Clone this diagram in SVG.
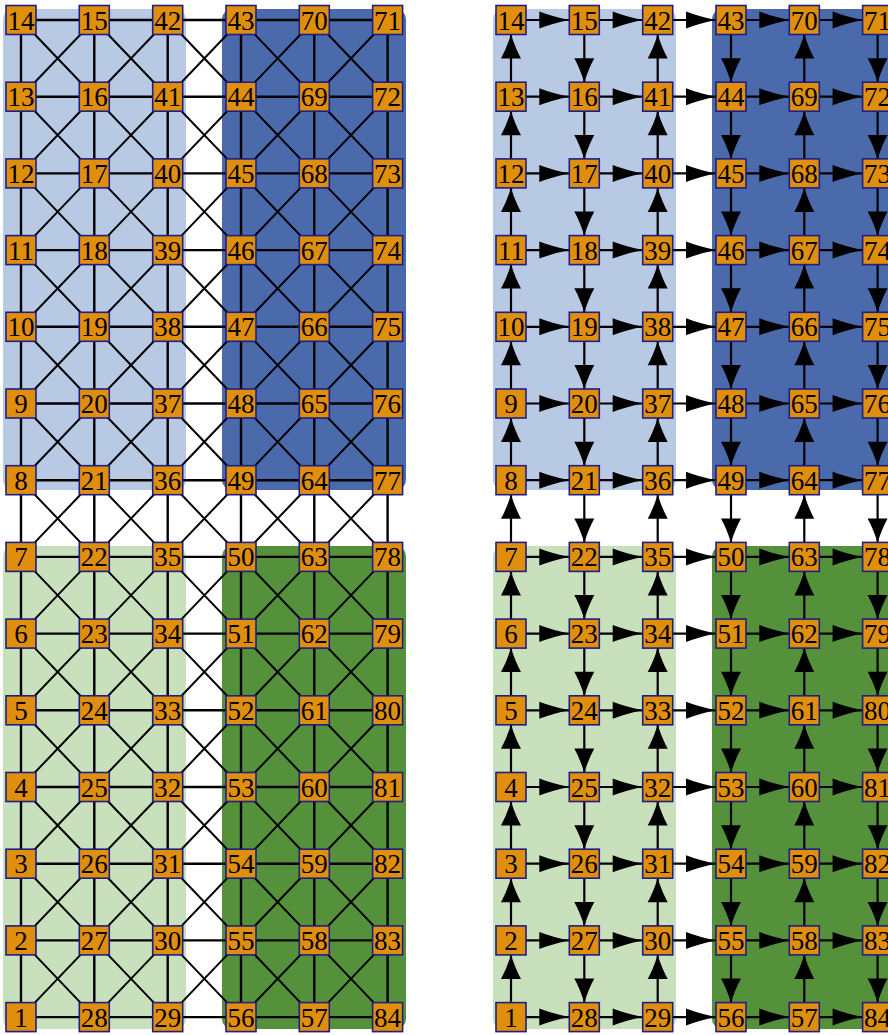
<svg xmlns="http://www.w3.org/2000/svg" xmlns:xlink="http://www.w3.org/1999/xlink" width="888" height="1035" viewBox="0 0 888 1035">
<style>
.e path{stroke:#000;stroke-width:2.4;fill:none}
.e .d{stroke-width:2}
.a path{stroke:#000;stroke-width:2.2;fill:none}
.a .h{marker-end:url(#ah)}
.a .v{marker-end:url(#av)}
.bx{fill:#e08f0c;stroke:#1e1e84;stroke-width:1.6}
text{font-family:"Liberation Serif","Times New Roman",serif;font-size:27px;text-anchor:middle;fill:#000}
</style>
<defs>
<rect id="bx" class="bx" x="-15" y="-14.5" width="30" height="29"/>
<marker id="ah" markerUnits="userSpaceOnUse" markerWidth="31" markerHeight="17" refX="30" refY="8.5" orient="auto" overflow="visible"><path d="M0,0 Q13,5 30,8.5 Q13,12 0,17 Z" fill="#000"/></marker>
<marker id="av" markerUnits="userSpaceOnUse" markerWidth="25" markerHeight="20" refX="24" refY="10" orient="auto" overflow="visible"><path d="M0,0 Q10,5.5 24,10 Q10,14.5 0,20 Z" fill="#000"/></marker>
</defs>
<g id="regions">
<rect x="3" y="9" width="183" height="481" rx="10" fill="#b8c9e3"/>
<rect x="222" y="9" width="184" height="481" rx="10" fill="#4a6aab"/>
<rect x="3" y="546" width="183" height="483" rx="10" fill="#c8e0bc"/>
<rect x="222" y="546" width="184" height="483" rx="10" fill="#55903b"/>
<rect x="493" y="9" width="183" height="481" rx="10" fill="#b8c9e3"/>
<rect x="712" y="9" width="190" height="481" rx="10" fill="#4a6aab"/>
<rect x="493" y="546" width="183" height="483" rx="10" fill="#c8e0bc"/>
<rect x="712" y="546" width="190" height="483" rx="10" fill="#55903b"/>
</g>
<g id="connectors">
<g class="e" id="left-edges">
<path d="M21 20H94.3M94.3 20H167.7M167.7 20H241M241 20H314.3M314.3 20H387.6"/>
<path d="M21 96.7H94.3M94.3 96.7H167.7M167.7 96.7H241M241 96.7H314.3M314.3 96.7H387.6"/>
<path d="M21 173.4H94.3M94.3 173.4H167.7M167.7 173.4H241M241 173.4H314.3M314.3 173.4H387.6"/>
<path d="M21 250.1H94.3M94.3 250.1H167.7M167.7 250.1H241M241 250.1H314.3M314.3 250.1H387.6"/>
<path d="M21 326.8H94.3M94.3 326.8H167.7M167.7 326.8H241M241 326.8H314.3M314.3 326.8H387.6"/>
<path d="M21 403.5H94.3M94.3 403.5H167.7M167.7 403.5H241M241 403.5H314.3M314.3 403.5H387.6"/>
<path d="M21 480.2H94.3M94.3 480.2H167.7M167.7 480.2H241M241 480.2H314.3M314.3 480.2H387.6"/>
<path d="M21 556.9H94.3M94.3 556.9H167.7M167.7 556.9H241M241 556.9H314.3M314.3 556.9H387.6"/>
<path d="M21 633.6H94.3M94.3 633.6H167.7M167.7 633.6H241M241 633.6H314.3M314.3 633.6H387.6"/>
<path d="M21 710.3H94.3M94.3 710.3H167.7M167.7 710.3H241M241 710.3H314.3M314.3 710.3H387.6"/>
<path d="M21 787H94.3M94.3 787H167.7M167.7 787H241M241 787H314.3M314.3 787H387.6"/>
<path d="M21 863.7H94.3M94.3 863.7H167.7M167.7 863.7H241M241 863.7H314.3M314.3 863.7H387.6"/>
<path d="M21 940.4H94.3M94.3 940.4H167.7M167.7 940.4H241M241 940.4H314.3M314.3 940.4H387.6"/>
<path d="M21 1017.1H94.3M94.3 1017.1H167.7M167.7 1017.1H241M241 1017.1H314.3M314.3 1017.1H387.6"/>
<path d="M21 20V96.7M21 96.7V173.4M21 173.4V250.1M21 250.1V326.8M21 326.8V403.5M21 403.5V480.2M21 480.2V556.9M21 556.9V633.6M21 633.6V710.3M21 710.3V787M21 787V863.7M21 863.7V940.4M21 940.4V1017.1"/>
<path d="M94.3 20V96.7M94.3 96.7V173.4M94.3 173.4V250.1M94.3 250.1V326.8M94.3 326.8V403.5M94.3 403.5V480.2M94.3 480.2V556.9M94.3 556.9V633.6M94.3 633.6V710.3M94.3 710.3V787M94.3 787V863.7M94.3 863.7V940.4M94.3 940.4V1017.1"/>
<path d="M167.7 20V96.7M167.7 96.7V173.4M167.7 173.4V250.1M167.7 250.1V326.8M167.7 326.8V403.5M167.7 403.5V480.2M167.7 480.2V556.9M167.7 556.9V633.6M167.7 633.6V710.3M167.7 710.3V787M167.7 787V863.7M167.7 863.7V940.4M167.7 940.4V1017.1"/>
<path d="M241 20V96.7M241 96.7V173.4M241 173.4V250.1M241 250.1V326.8M241 326.8V403.5M241 403.5V480.2M241 480.2V556.9M241 556.9V633.6M241 633.6V710.3M241 710.3V787M241 787V863.7M241 863.7V940.4M241 940.4V1017.1"/>
<path d="M314.3 20V96.7M314.3 96.7V173.4M314.3 173.4V250.1M314.3 250.1V326.8M314.3 326.8V403.5M314.3 403.5V480.2M314.3 480.2V556.9M314.3 556.9V633.6M314.3 633.6V710.3M314.3 710.3V787M314.3 787V863.7M314.3 863.7V940.4M314.3 940.4V1017.1"/>
<path d="M387.6 20V96.7M387.6 96.7V173.4M387.6 173.4V250.1M387.6 250.1V326.8M387.6 326.8V403.5M387.6 403.5V480.2M387.6 480.2V556.9M387.6 556.9V633.6M387.6 633.6V710.3M387.6 710.3V787M387.6 787V863.7M387.6 863.7V940.4M387.6 940.4V1017.1"/>
<path class="d" d="M21 20L94.3 96.7M94.3 20L21 96.7M94.3 20L167.7 96.7M167.7 20L94.3 96.7M167.7 20L241 96.7M241 20L167.7 96.7M241 20L314.3 96.7M314.3 20L241 96.7M314.3 20L387.6 96.7M387.6 20L314.3 96.7"/>
<path class="d" d="M21 96.7L94.3 173.4M94.3 96.7L21 173.4M94.3 96.7L167.7 173.4M167.7 96.7L94.3 173.4M167.7 96.7L241 173.4M241 96.7L167.7 173.4M241 96.7L314.3 173.4M314.3 96.7L241 173.4M314.3 96.7L387.6 173.4M387.6 96.7L314.3 173.4"/>
<path class="d" d="M21 173.4L94.3 250.1M94.3 173.4L21 250.1M94.3 173.4L167.7 250.1M167.7 173.4L94.3 250.1M167.7 173.4L241 250.1M241 173.4L167.7 250.1M241 173.4L314.3 250.1M314.3 173.4L241 250.1M314.3 173.4L387.6 250.1M387.6 173.4L314.3 250.1"/>
<path class="d" d="M21 250.1L94.3 326.8M94.3 250.1L21 326.8M94.3 250.1L167.7 326.8M167.7 250.1L94.3 326.8M167.7 250.1L241 326.8M241 250.1L167.7 326.8M241 250.1L314.3 326.8M314.3 250.1L241 326.8M314.3 250.1L387.6 326.8M387.6 250.1L314.3 326.8"/>
<path class="d" d="M21 326.8L94.3 403.5M94.3 326.8L21 403.5M94.3 326.8L167.7 403.5M167.7 326.8L94.3 403.5M167.7 326.8L241 403.5M241 326.8L167.7 403.5M241 326.8L314.3 403.5M314.3 326.8L241 403.5M314.3 326.8L387.6 403.5M387.6 326.8L314.3 403.5"/>
<path class="d" d="M21 403.5L94.3 480.2M94.3 403.5L21 480.2M94.3 403.5L167.7 480.2M167.7 403.5L94.3 480.2M167.7 403.5L241 480.2M241 403.5L167.7 480.2M241 403.5L314.3 480.2M314.3 403.5L241 480.2M314.3 403.5L387.6 480.2M387.6 403.5L314.3 480.2"/>
<path class="d" d="M21 480.2L94.3 556.9M94.3 480.2L21 556.9M94.3 480.2L167.7 556.9M167.7 480.2L94.3 556.9M167.7 480.2L241 556.9M241 480.2L167.7 556.9M241 480.2L314.3 556.9M314.3 480.2L241 556.9M314.3 480.2L387.6 556.9M387.6 480.2L314.3 556.9"/>
<path class="d" d="M21 556.9L94.3 633.6M94.3 556.9L21 633.6M94.3 556.9L167.7 633.6M167.7 556.9L94.3 633.6M167.7 556.9L241 633.6M241 556.9L167.7 633.6M241 556.9L314.3 633.6M314.3 556.9L241 633.6M314.3 556.9L387.6 633.6M387.6 556.9L314.3 633.6"/>
<path class="d" d="M21 633.6L94.3 710.3M94.3 633.6L21 710.3M94.3 633.6L167.7 710.3M167.7 633.6L94.3 710.3M167.7 633.6L241 710.3M241 633.6L167.7 710.3M241 633.6L314.3 710.3M314.3 633.6L241 710.3M314.3 633.6L387.6 710.3M387.6 633.6L314.3 710.3"/>
<path class="d" d="M21 710.3L94.3 787M94.3 710.3L21 787M94.3 710.3L167.7 787M167.7 710.3L94.3 787M167.7 710.3L241 787M241 710.3L167.7 787M241 710.3L314.3 787M314.3 710.3L241 787M314.3 710.3L387.6 787M387.6 710.3L314.3 787"/>
<path class="d" d="M21 787L94.3 863.7M94.3 787L21 863.7M94.3 787L167.7 863.7M167.7 787L94.3 863.7M167.7 787L241 863.7M241 787L167.7 863.7M241 787L314.3 863.7M314.3 787L241 863.7M314.3 787L387.6 863.7M387.6 787L314.3 863.7"/>
<path class="d" d="M21 863.7L94.3 940.4M94.3 863.7L21 940.4M94.3 863.7L167.7 940.4M167.7 863.7L94.3 940.4M167.7 863.7L241 940.4M241 863.7L167.7 940.4M241 863.7L314.3 940.4M314.3 863.7L241 940.4M314.3 863.7L387.6 940.4M387.6 863.7L314.3 940.4"/>
<path class="d" d="M21 940.4L94.3 1017.1M94.3 940.4L21 1017.1M94.3 940.4L167.7 1017.1M167.7 940.4L94.3 1017.1M167.7 940.4L241 1017.1M241 940.4L167.7 1017.1M241 940.4L314.3 1017.1M314.3 940.4L241 1017.1M314.3 940.4L387.6 1017.1M387.6 940.4L314.3 1017.1"/>
</g>
<g class="a" id="right-arrows">
<path class="h" d="M526 20H569.3"/><path class="h" d="M599.3 20H642.7"/><path class="h" d="M672.7 20H716"/><path class="h" d="M746 20H789.3"/><path class="h" d="M819.3 20H862.6"/>
<path class="h" d="M526 96.7H569.3"/><path class="h" d="M599.3 96.7H642.7"/><path class="h" d="M672.7 96.7H716"/><path class="h" d="M746 96.7H789.3"/><path class="h" d="M819.3 96.7H862.6"/>
<path class="h" d="M526 173.4H569.3"/><path class="h" d="M599.3 173.4H642.7"/><path class="h" d="M672.7 173.4H716"/><path class="h" d="M746 173.4H789.3"/><path class="h" d="M819.3 173.4H862.6"/>
<path class="h" d="M526 250.1H569.3"/><path class="h" d="M599.3 250.1H642.7"/><path class="h" d="M672.7 250.1H716"/><path class="h" d="M746 250.1H789.3"/><path class="h" d="M819.3 250.1H862.6"/>
<path class="h" d="M526 326.8H569.3"/><path class="h" d="M599.3 326.8H642.7"/><path class="h" d="M672.7 326.8H716"/><path class="h" d="M746 326.8H789.3"/><path class="h" d="M819.3 326.8H862.6"/>
<path class="h" d="M526 403.5H569.3"/><path class="h" d="M599.3 403.5H642.7"/><path class="h" d="M672.7 403.5H716"/><path class="h" d="M746 403.5H789.3"/><path class="h" d="M819.3 403.5H862.6"/>
<path class="h" d="M526 480.2H569.3"/><path class="h" d="M599.3 480.2H642.7"/><path class="h" d="M672.7 480.2H716"/><path class="h" d="M746 480.2H789.3"/><path class="h" d="M819.3 480.2H862.6"/>
<path class="h" d="M526 556.9H569.3"/><path class="h" d="M599.3 556.9H642.7"/><path class="h" d="M672.7 556.9H716"/><path class="h" d="M746 556.9H789.3"/><path class="h" d="M819.3 556.9H862.6"/>
<path class="h" d="M526 633.6H569.3"/><path class="h" d="M599.3 633.6H642.7"/><path class="h" d="M672.7 633.6H716"/><path class="h" d="M746 633.6H789.3"/><path class="h" d="M819.3 633.6H862.6"/>
<path class="h" d="M526 710.3H569.3"/><path class="h" d="M599.3 710.3H642.7"/><path class="h" d="M672.7 710.3H716"/><path class="h" d="M746 710.3H789.3"/><path class="h" d="M819.3 710.3H862.6"/>
<path class="h" d="M526 787H569.3"/><path class="h" d="M599.3 787H642.7"/><path class="h" d="M672.7 787H716"/><path class="h" d="M746 787H789.3"/><path class="h" d="M819.3 787H862.6"/>
<path class="h" d="M526 863.7H569.3"/><path class="h" d="M599.3 863.7H642.7"/><path class="h" d="M672.7 863.7H716"/><path class="h" d="M746 863.7H789.3"/><path class="h" d="M819.3 863.7H862.6"/>
<path class="h" d="M526 940.4H569.3"/><path class="h" d="M599.3 940.4H642.7"/><path class="h" d="M672.7 940.4H716"/><path class="h" d="M746 940.4H789.3"/><path class="h" d="M819.3 940.4H862.6"/>
<path class="h" d="M526 1017.1H569.3"/><path class="h" d="M599.3 1017.1H642.7"/><path class="h" d="M672.7 1017.1H716"/><path class="h" d="M746 1017.1H789.3"/><path class="h" d="M819.3 1017.1H862.6"/>
<path class="v" d="M511 82.2V34.5"/><path class="v" d="M511 158.9V111.2"/><path class="v" d="M511 235.6V187.9"/><path class="v" d="M511 312.3V264.6"/><path class="v" d="M511 389V341.3"/><path class="v" d="M511 465.7V418"/><path class="v" d="M511 542.4V494.7"/><path class="v" d="M511 619.1V571.4"/><path class="v" d="M511 695.8V648.1"/><path class="v" d="M511 772.5V724.8"/><path class="v" d="M511 849.2V801.5"/><path class="v" d="M511 925.9V878.2"/><path class="v" d="M511 1002.6V954.9"/>
<path class="v" d="M584.3 34.5V82.2"/><path class="v" d="M584.3 111.2V158.9"/><path class="v" d="M584.3 187.9V235.6"/><path class="v" d="M584.3 264.6V312.3"/><path class="v" d="M584.3 341.3V389"/><path class="v" d="M584.3 418V465.7"/><path class="v" d="M584.3 494.7V542.4"/><path class="v" d="M584.3 571.4V619.1"/><path class="v" d="M584.3 648.1V695.8"/><path class="v" d="M584.3 724.8V772.5"/><path class="v" d="M584.3 801.5V849.2"/><path class="v" d="M584.3 878.2V925.9"/><path class="v" d="M584.3 954.9V1002.6"/>
<path class="v" d="M657.7 82.2V34.5"/><path class="v" d="M657.7 158.9V111.2"/><path class="v" d="M657.7 235.6V187.9"/><path class="v" d="M657.7 312.3V264.6"/><path class="v" d="M657.7 389V341.3"/><path class="v" d="M657.7 465.7V418"/><path class="v" d="M657.7 542.4V494.7"/><path class="v" d="M657.7 619.1V571.4"/><path class="v" d="M657.7 695.8V648.1"/><path class="v" d="M657.7 772.5V724.8"/><path class="v" d="M657.7 849.2V801.5"/><path class="v" d="M657.7 925.9V878.2"/><path class="v" d="M657.7 1002.6V954.9"/>
<path class="v" d="M731 34.5V82.2"/><path class="v" d="M731 111.2V158.9"/><path class="v" d="M731 187.9V235.6"/><path class="v" d="M731 264.6V312.3"/><path class="v" d="M731 341.3V389"/><path class="v" d="M731 418V465.7"/><path class="v" d="M731 494.7V542.4"/><path class="v" d="M731 571.4V619.1"/><path class="v" d="M731 648.1V695.8"/><path class="v" d="M731 724.8V772.5"/><path class="v" d="M731 801.5V849.2"/><path class="v" d="M731 878.2V925.9"/><path class="v" d="M731 954.9V1002.6"/>
<path class="v" d="M804.3 82.2V34.5"/><path class="v" d="M804.3 158.9V111.2"/><path class="v" d="M804.3 235.6V187.9"/><path class="v" d="M804.3 312.3V264.6"/><path class="v" d="M804.3 389V341.3"/><path class="v" d="M804.3 465.7V418"/><path class="v" d="M804.3 542.4V494.7"/><path class="v" d="M804.3 619.1V571.4"/><path class="v" d="M804.3 695.8V648.1"/><path class="v" d="M804.3 772.5V724.8"/><path class="v" d="M804.3 849.2V801.5"/><path class="v" d="M804.3 925.9V878.2"/><path class="v" d="M804.3 1002.6V954.9"/>
<path class="v" d="M877.6 34.5V82.2"/><path class="v" d="M877.6 111.2V158.9"/><path class="v" d="M877.6 187.9V235.6"/><path class="v" d="M877.6 264.6V312.3"/><path class="v" d="M877.6 341.3V389"/><path class="v" d="M877.6 418V465.7"/><path class="v" d="M877.6 494.7V542.4"/><path class="v" d="M877.6 571.4V619.1"/><path class="v" d="M877.6 648.1V695.8"/><path class="v" d="M877.6 724.8V772.5"/><path class="v" d="M877.6 801.5V849.2"/><path class="v" d="M877.6 878.2V925.9"/><path class="v" d="M877.6 954.9V1002.6"/>
</g>
</g>
<g id="left-nodes">
<g id="L14" transform="translate(21 20)"><use href="#bx"/><text y="9.5">14</text></g>
<g id="L13" transform="translate(21 96.7)"><use href="#bx"/><text y="9.5">13</text></g>
<g id="L12" transform="translate(21 173.4)"><use href="#bx"/><text y="9.5">12</text></g>
<g id="L11" transform="translate(21 250.1)"><use href="#bx"/><text y="9.5">11</text></g>
<g id="L10" transform="translate(21 326.8)"><use href="#bx"/><text y="9.5">10</text></g>
<g id="L9" transform="translate(21 403.5)"><use href="#bx"/><text y="9.5">9</text></g>
<g id="L8" transform="translate(21 480.2)"><use href="#bx"/><text y="9.5">8</text></g>
<g id="L7" transform="translate(21 556.9)"><use href="#bx"/><text y="9.5">7</text></g>
<g id="L6" transform="translate(21 633.6)"><use href="#bx"/><text y="9.5">6</text></g>
<g id="L5" transform="translate(21 710.3)"><use href="#bx"/><text y="9.5">5</text></g>
<g id="L4" transform="translate(21 787)"><use href="#bx"/><text y="9.5">4</text></g>
<g id="L3" transform="translate(21 863.7)"><use href="#bx"/><text y="9.5">3</text></g>
<g id="L2" transform="translate(21 940.4)"><use href="#bx"/><text y="9.5">2</text></g>
<g id="L1" transform="translate(21 1017.1)"><use href="#bx"/><text y="9.5">1</text></g>
<g id="L15" transform="translate(94.3 20)"><use href="#bx"/><text y="9.5">15</text></g>
<g id="L16" transform="translate(94.3 96.7)"><use href="#bx"/><text y="9.5">16</text></g>
<g id="L17" transform="translate(94.3 173.4)"><use href="#bx"/><text y="9.5">17</text></g>
<g id="L18" transform="translate(94.3 250.1)"><use href="#bx"/><text y="9.5">18</text></g>
<g id="L19" transform="translate(94.3 326.8)"><use href="#bx"/><text y="9.5">19</text></g>
<g id="L20" transform="translate(94.3 403.5)"><use href="#bx"/><text y="9.5">20</text></g>
<g id="L21" transform="translate(94.3 480.2)"><use href="#bx"/><text y="9.5">21</text></g>
<g id="L22" transform="translate(94.3 556.9)"><use href="#bx"/><text y="9.5">22</text></g>
<g id="L23" transform="translate(94.3 633.6)"><use href="#bx"/><text y="9.5">23</text></g>
<g id="L24" transform="translate(94.3 710.3)"><use href="#bx"/><text y="9.5">24</text></g>
<g id="L25" transform="translate(94.3 787)"><use href="#bx"/><text y="9.5">25</text></g>
<g id="L26" transform="translate(94.3 863.7)"><use href="#bx"/><text y="9.5">26</text></g>
<g id="L27" transform="translate(94.3 940.4)"><use href="#bx"/><text y="9.5">27</text></g>
<g id="L28" transform="translate(94.3 1017.1)"><use href="#bx"/><text y="9.5">28</text></g>
<g id="L42" transform="translate(167.7 20)"><use href="#bx"/><text y="9.5">42</text></g>
<g id="L41" transform="translate(167.7 96.7)"><use href="#bx"/><text y="9.5">41</text></g>
<g id="L40" transform="translate(167.7 173.4)"><use href="#bx"/><text y="9.5">40</text></g>
<g id="L39" transform="translate(167.7 250.1)"><use href="#bx"/><text y="9.5">39</text></g>
<g id="L38" transform="translate(167.7 326.8)"><use href="#bx"/><text y="9.5">38</text></g>
<g id="L37" transform="translate(167.7 403.5)"><use href="#bx"/><text y="9.5">37</text></g>
<g id="L36" transform="translate(167.7 480.2)"><use href="#bx"/><text y="9.5">36</text></g>
<g id="L35" transform="translate(167.7 556.9)"><use href="#bx"/><text y="9.5">35</text></g>
<g id="L34" transform="translate(167.7 633.6)"><use href="#bx"/><text y="9.5">34</text></g>
<g id="L33" transform="translate(167.7 710.3)"><use href="#bx"/><text y="9.5">33</text></g>
<g id="L32" transform="translate(167.7 787)"><use href="#bx"/><text y="9.5">32</text></g>
<g id="L31" transform="translate(167.7 863.7)"><use href="#bx"/><text y="9.5">31</text></g>
<g id="L30" transform="translate(167.7 940.4)"><use href="#bx"/><text y="9.5">30</text></g>
<g id="L29" transform="translate(167.7 1017.1)"><use href="#bx"/><text y="9.5">29</text></g>
<g id="L43" transform="translate(241 20)"><use href="#bx"/><text y="9.5">43</text></g>
<g id="L44" transform="translate(241 96.7)"><use href="#bx"/><text y="9.5">44</text></g>
<g id="L45" transform="translate(241 173.4)"><use href="#bx"/><text y="9.5">45</text></g>
<g id="L46" transform="translate(241 250.1)"><use href="#bx"/><text y="9.5">46</text></g>
<g id="L47" transform="translate(241 326.8)"><use href="#bx"/><text y="9.5">47</text></g>
<g id="L48" transform="translate(241 403.5)"><use href="#bx"/><text y="9.5">48</text></g>
<g id="L49" transform="translate(241 480.2)"><use href="#bx"/><text y="9.5">49</text></g>
<g id="L50" transform="translate(241 556.9)"><use href="#bx"/><text y="9.5">50</text></g>
<g id="L51" transform="translate(241 633.6)"><use href="#bx"/><text y="9.5">51</text></g>
<g id="L52" transform="translate(241 710.3)"><use href="#bx"/><text y="9.5">52</text></g>
<g id="L53" transform="translate(241 787)"><use href="#bx"/><text y="9.5">53</text></g>
<g id="L54" transform="translate(241 863.7)"><use href="#bx"/><text y="9.5">54</text></g>
<g id="L55" transform="translate(241 940.4)"><use href="#bx"/><text y="9.5">55</text></g>
<g id="L56" transform="translate(241 1017.1)"><use href="#bx"/><text y="9.5">56</text></g>
<g id="L70" transform="translate(314.3 20)"><use href="#bx"/><text y="9.5">70</text></g>
<g id="L69" transform="translate(314.3 96.7)"><use href="#bx"/><text y="9.5">69</text></g>
<g id="L68" transform="translate(314.3 173.4)"><use href="#bx"/><text y="9.5">68</text></g>
<g id="L67" transform="translate(314.3 250.1)"><use href="#bx"/><text y="9.5">67</text></g>
<g id="L66" transform="translate(314.3 326.8)"><use href="#bx"/><text y="9.5">66</text></g>
<g id="L65" transform="translate(314.3 403.5)"><use href="#bx"/><text y="9.5">65</text></g>
<g id="L64" transform="translate(314.3 480.2)"><use href="#bx"/><text y="9.5">64</text></g>
<g id="L63" transform="translate(314.3 556.9)"><use href="#bx"/><text y="9.5">63</text></g>
<g id="L62" transform="translate(314.3 633.6)"><use href="#bx"/><text y="9.5">62</text></g>
<g id="L61" transform="translate(314.3 710.3)"><use href="#bx"/><text y="9.5">61</text></g>
<g id="L60" transform="translate(314.3 787)"><use href="#bx"/><text y="9.5">60</text></g>
<g id="L59" transform="translate(314.3 863.7)"><use href="#bx"/><text y="9.5">59</text></g>
<g id="L58" transform="translate(314.3 940.4)"><use href="#bx"/><text y="9.5">58</text></g>
<g id="L57" transform="translate(314.3 1017.1)"><use href="#bx"/><text y="9.5">57</text></g>
<g id="L71" transform="translate(387.6 20)"><use href="#bx"/><text y="9.5">71</text></g>
<g id="L72" transform="translate(387.6 96.7)"><use href="#bx"/><text y="9.5">72</text></g>
<g id="L73" transform="translate(387.6 173.4)"><use href="#bx"/><text y="9.5">73</text></g>
<g id="L74" transform="translate(387.6 250.1)"><use href="#bx"/><text y="9.5">74</text></g>
<g id="L75" transform="translate(387.6 326.8)"><use href="#bx"/><text y="9.5">75</text></g>
<g id="L76" transform="translate(387.6 403.5)"><use href="#bx"/><text y="9.5">76</text></g>
<g id="L77" transform="translate(387.6 480.2)"><use href="#bx"/><text y="9.5">77</text></g>
<g id="L78" transform="translate(387.6 556.9)"><use href="#bx"/><text y="9.5">78</text></g>
<g id="L79" transform="translate(387.6 633.6)"><use href="#bx"/><text y="9.5">79</text></g>
<g id="L80" transform="translate(387.6 710.3)"><use href="#bx"/><text y="9.5">80</text></g>
<g id="L81" transform="translate(387.6 787)"><use href="#bx"/><text y="9.5">81</text></g>
<g id="L82" transform="translate(387.6 863.7)"><use href="#bx"/><text y="9.5">82</text></g>
<g id="L83" transform="translate(387.6 940.4)"><use href="#bx"/><text y="9.5">83</text></g>
<g id="L84" transform="translate(387.6 1017.1)"><use href="#bx"/><text y="9.5">84</text></g>
</g>
<g id="right-nodes">
<g id="R14" transform="translate(511 20)"><use href="#bx"/><text y="9.5">14</text></g>
<g id="R13" transform="translate(511 96.7)"><use href="#bx"/><text y="9.5">13</text></g>
<g id="R12" transform="translate(511 173.4)"><use href="#bx"/><text y="9.5">12</text></g>
<g id="R11" transform="translate(511 250.1)"><use href="#bx"/><text y="9.5">11</text></g>
<g id="R10" transform="translate(511 326.8)"><use href="#bx"/><text y="9.5">10</text></g>
<g id="R9" transform="translate(511 403.5)"><use href="#bx"/><text y="9.5">9</text></g>
<g id="R8" transform="translate(511 480.2)"><use href="#bx"/><text y="9.5">8</text></g>
<g id="R7" transform="translate(511 556.9)"><use href="#bx"/><text y="9.5">7</text></g>
<g id="R6" transform="translate(511 633.6)"><use href="#bx"/><text y="9.5">6</text></g>
<g id="R5" transform="translate(511 710.3)"><use href="#bx"/><text y="9.5">5</text></g>
<g id="R4" transform="translate(511 787)"><use href="#bx"/><text y="9.5">4</text></g>
<g id="R3" transform="translate(511 863.7)"><use href="#bx"/><text y="9.5">3</text></g>
<g id="R2" transform="translate(511 940.4)"><use href="#bx"/><text y="9.5">2</text></g>
<g id="R1" transform="translate(511 1017.1)"><use href="#bx"/><text y="9.5">1</text></g>
<g id="R15" transform="translate(584.3 20)"><use href="#bx"/><text y="9.5">15</text></g>
<g id="R16" transform="translate(584.3 96.7)"><use href="#bx"/><text y="9.5">16</text></g>
<g id="R17" transform="translate(584.3 173.4)"><use href="#bx"/><text y="9.5">17</text></g>
<g id="R18" transform="translate(584.3 250.1)"><use href="#bx"/><text y="9.5">18</text></g>
<g id="R19" transform="translate(584.3 326.8)"><use href="#bx"/><text y="9.5">19</text></g>
<g id="R20" transform="translate(584.3 403.5)"><use href="#bx"/><text y="9.5">20</text></g>
<g id="R21" transform="translate(584.3 480.2)"><use href="#bx"/><text y="9.5">21</text></g>
<g id="R22" transform="translate(584.3 556.9)"><use href="#bx"/><text y="9.5">22</text></g>
<g id="R23" transform="translate(584.3 633.6)"><use href="#bx"/><text y="9.5">23</text></g>
<g id="R24" transform="translate(584.3 710.3)"><use href="#bx"/><text y="9.5">24</text></g>
<g id="R25" transform="translate(584.3 787)"><use href="#bx"/><text y="9.5">25</text></g>
<g id="R26" transform="translate(584.3 863.7)"><use href="#bx"/><text y="9.5">26</text></g>
<g id="R27" transform="translate(584.3 940.4)"><use href="#bx"/><text y="9.5">27</text></g>
<g id="R28" transform="translate(584.3 1017.1)"><use href="#bx"/><text y="9.5">28</text></g>
<g id="R42" transform="translate(657.7 20)"><use href="#bx"/><text y="9.5">42</text></g>
<g id="R41" transform="translate(657.7 96.7)"><use href="#bx"/><text y="9.5">41</text></g>
<g id="R40" transform="translate(657.7 173.4)"><use href="#bx"/><text y="9.5">40</text></g>
<g id="R39" transform="translate(657.7 250.1)"><use href="#bx"/><text y="9.5">39</text></g>
<g id="R38" transform="translate(657.7 326.8)"><use href="#bx"/><text y="9.5">38</text></g>
<g id="R37" transform="translate(657.7 403.5)"><use href="#bx"/><text y="9.5">37</text></g>
<g id="R36" transform="translate(657.7 480.2)"><use href="#bx"/><text y="9.5">36</text></g>
<g id="R35" transform="translate(657.7 556.9)"><use href="#bx"/><text y="9.5">35</text></g>
<g id="R34" transform="translate(657.7 633.6)"><use href="#bx"/><text y="9.5">34</text></g>
<g id="R33" transform="translate(657.7 710.3)"><use href="#bx"/><text y="9.5">33</text></g>
<g id="R32" transform="translate(657.7 787)"><use href="#bx"/><text y="9.5">32</text></g>
<g id="R31" transform="translate(657.7 863.7)"><use href="#bx"/><text y="9.5">31</text></g>
<g id="R30" transform="translate(657.7 940.4)"><use href="#bx"/><text y="9.5">30</text></g>
<g id="R29" transform="translate(657.7 1017.1)"><use href="#bx"/><text y="9.5">29</text></g>
<g id="R43" transform="translate(731 20)"><use href="#bx"/><text y="9.5">43</text></g>
<g id="R44" transform="translate(731 96.7)"><use href="#bx"/><text y="9.5">44</text></g>
<g id="R45" transform="translate(731 173.4)"><use href="#bx"/><text y="9.5">45</text></g>
<g id="R46" transform="translate(731 250.1)"><use href="#bx"/><text y="9.5">46</text></g>
<g id="R47" transform="translate(731 326.8)"><use href="#bx"/><text y="9.5">47</text></g>
<g id="R48" transform="translate(731 403.5)"><use href="#bx"/><text y="9.5">48</text></g>
<g id="R49" transform="translate(731 480.2)"><use href="#bx"/><text y="9.5">49</text></g>
<g id="R50" transform="translate(731 556.9)"><use href="#bx"/><text y="9.5">50</text></g>
<g id="R51" transform="translate(731 633.6)"><use href="#bx"/><text y="9.5">51</text></g>
<g id="R52" transform="translate(731 710.3)"><use href="#bx"/><text y="9.5">52</text></g>
<g id="R53" transform="translate(731 787)"><use href="#bx"/><text y="9.5">53</text></g>
<g id="R54" transform="translate(731 863.7)"><use href="#bx"/><text y="9.5">54</text></g>
<g id="R55" transform="translate(731 940.4)"><use href="#bx"/><text y="9.5">55</text></g>
<g id="R56" transform="translate(731 1017.1)"><use href="#bx"/><text y="9.5">56</text></g>
<g id="R70" transform="translate(804.3 20)"><use href="#bx"/><text y="9.5">70</text></g>
<g id="R69" transform="translate(804.3 96.7)"><use href="#bx"/><text y="9.5">69</text></g>
<g id="R68" transform="translate(804.3 173.4)"><use href="#bx"/><text y="9.5">68</text></g>
<g id="R67" transform="translate(804.3 250.1)"><use href="#bx"/><text y="9.5">67</text></g>
<g id="R66" transform="translate(804.3 326.8)"><use href="#bx"/><text y="9.5">66</text></g>
<g id="R65" transform="translate(804.3 403.5)"><use href="#bx"/><text y="9.5">65</text></g>
<g id="R64" transform="translate(804.3 480.2)"><use href="#bx"/><text y="9.5">64</text></g>
<g id="R63" transform="translate(804.3 556.9)"><use href="#bx"/><text y="9.5">63</text></g>
<g id="R62" transform="translate(804.3 633.6)"><use href="#bx"/><text y="9.5">62</text></g>
<g id="R61" transform="translate(804.3 710.3)"><use href="#bx"/><text y="9.5">61</text></g>
<g id="R60" transform="translate(804.3 787)"><use href="#bx"/><text y="9.5">60</text></g>
<g id="R59" transform="translate(804.3 863.7)"><use href="#bx"/><text y="9.5">59</text></g>
<g id="R58" transform="translate(804.3 940.4)"><use href="#bx"/><text y="9.5">58</text></g>
<g id="R57" transform="translate(804.3 1017.1)"><use href="#bx"/><text y="9.5">57</text></g>
<g id="R71" transform="translate(877.6 20)"><use href="#bx"/><text y="9.5">71</text></g>
<g id="R72" transform="translate(877.6 96.7)"><use href="#bx"/><text y="9.5">72</text></g>
<g id="R73" transform="translate(877.6 173.4)"><use href="#bx"/><text y="9.5">73</text></g>
<g id="R74" transform="translate(877.6 250.1)"><use href="#bx"/><text y="9.5">74</text></g>
<g id="R75" transform="translate(877.6 326.8)"><use href="#bx"/><text y="9.5">75</text></g>
<g id="R76" transform="translate(877.6 403.5)"><use href="#bx"/><text y="9.5">76</text></g>
<g id="R77" transform="translate(877.6 480.2)"><use href="#bx"/><text y="9.5">77</text></g>
<g id="R78" transform="translate(877.6 556.9)"><use href="#bx"/><text y="9.5">78</text></g>
<g id="R79" transform="translate(877.6 633.6)"><use href="#bx"/><text y="9.5">79</text></g>
<g id="R80" transform="translate(877.6 710.3)"><use href="#bx"/><text y="9.5">80</text></g>
<g id="R81" transform="translate(877.6 787)"><use href="#bx"/><text y="9.5">81</text></g>
<g id="R82" transform="translate(877.6 863.7)"><use href="#bx"/><text y="9.5">82</text></g>
<g id="R83" transform="translate(877.6 940.4)"><use href="#bx"/><text y="9.5">83</text></g>
<g id="R84" transform="translate(877.6 1017.1)"><use href="#bx"/><text y="9.5">84</text></g>
</g>
</svg>
